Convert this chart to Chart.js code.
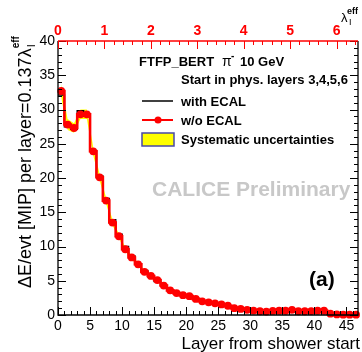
<!DOCTYPE html>
<html><head><meta charset="utf-8">
<script src="https://cdn.jsdelivr.net/npm/chart.js@4.4.1/dist/chart.umd.min.js"></script>
<style>html,body{margin:0;padding:0;background:#fff;overflow:hidden}</style>
</head><body>
<canvas id="c" width="362" height="352" style="display:block;width:362px;height:352px"></canvas>
<script>
// ---- data ----
const layers   = [0,1,2,3,4,5,6,7,8,9,10,11,12,13,14,15,16,17,18,19,20,21,22,23,24,25,26,27,28,29,30,31,32,33,34,35,36,37,38,39,40,41,42,43,44,45,46];
const woEcal   = [32.7,27.8,27.3,29.3,29.3,23.9,20.1,16.7,13.5,11.5,9.6,8.4,7.4,6.3,5.7,5.1,4.3,3.6,3.2,2.9,2.75,2.35,2.0,1.85,1.7,1.55,1.35,1.0,0.88,0.75,0.65,0.55,0.5,0.6,0.62,0.62,0.75,0.55,0.55,0.58,0.62,0.62,0.2,0.08,0.05,0.05,0.05];
const withEcal = [32.1,27.5,27.1,29.8,29.0,24.0,20.3,17.0,13.9,11.8,10.0,8.6,7.5,6.5,5.6,4.9,4.3,3.7,3.2,2.9,2.6,2.3,2.0,1.8,1.6,1.5,1.3,1.05,0.9,0.8,0.7,0.6,0.55,0.6,0.6,0.6,0.7,0.6,0.55,0.6,0.6,0.6,0.3,0.15,0.1,0.1,0.1];
const sysErr   = [1.0,0.8,0.7,0.7,0.7,0.6,0.5,0.45,0.4,0.35,0.3,0.3,0.25,0.25,0.2,0.2,0.2,0.15,0.15,0.15,0.12,0.12,0.1,0.1,0.1,0.1,0.08,0.08,0.08,0.08,0.06,0.06,0.06,0.06,0.06,0.06,0.06,0.06,0.06,0.06,0.06,0.06,0.05,0.05,0.05,0.05,0.05];
const xTickLabels = [0,5,10,15,20,25,30,35,40,45];
const yTickLabels = [0,5,10,15,20,25,30,35,40];
const lambdaTickLabels = [0,1,2,3,4,5,6];
const xMax = 46.8, yMax = 40, lambdaMax = 6.46;

// ---- derived point lists ----
const stepPts = vals => { const p = vals.map((v,i)=>({x:layers[i], y:v})); p.push({x:layers[layers.length-1]+1, y:vals[vals.length-1]}); return p; };
const centerPts = vals => vals.map((v,i)=>({x:layers[i]+0.5, y:v}));
const upper = woEcal.map((v,i)=>({x:layers[i]+0.5, y:v+sysErr[i]}));
const lower = woEcal.map((v,i)=>({x:layers[i]+0.5, y:Math.max(0,v-sysErr[i])}));

const FONT = '"Liberation Sans", Arial, Helvetica, sans-serif';

const deco = {
  id:'deco',
  afterDatasetsDraw(chart){
    const ctx = chart.ctx, a = chart.chartArea;
    const X = chart.scales.x, Y = chart.scales.y, L = chart.scales.x2;
    ctx.save();
    // frame
    ctx.lineWidth = 1.3; ctx.strokeStyle = '#000';
    ctx.beginPath();
    ctx.moveTo(a.left, a.top); ctx.lineTo(a.left, a.bottom); ctx.lineTo(a.right, a.bottom); ctx.lineTo(a.right, a.top);
    ctx.stroke();
    // y ticks (left + right)
    ctx.lineWidth = 1;
    ctx.beginPath();
    for (let v = 0; v <= yMax; v += 1) {
      const y = Math.round(Y.getPixelForValue(v)) + 0.5;
      const len = (v % 5 === 0) ? 8 : 4;
      ctx.moveTo(a.left, y); ctx.lineTo(a.left + len, y);
      ctx.moveTo(a.right, y); ctx.lineTo(a.right - len, y);
    }
    // x ticks bottom
    for (let v = 0; v <= xMax; v += 1) {
      const x = Math.round(X.getPixelForValue(v)) + 0.5;
      const len = (v % 5 === 0) ? 8 : 4;
      ctx.moveTo(x, a.bottom); ctx.lineTo(x, a.bottom - len);
    }
    ctx.stroke();
    // top red axis
    ctx.strokeStyle = '#ff0000'; ctx.lineWidth = 1.3;
    ctx.beginPath(); ctx.moveTo(a.left, a.top); ctx.lineTo(a.right, a.top); ctx.stroke();
    ctx.lineWidth = 1;
    ctx.beginPath();
    for (let k = 0; k <= Math.floor(lambdaMax*5); k++) {
      const v = k/5;
      const x = Math.round(L.getPixelForValue(v)) + 0.5;
      const len = (k % 5 === 0) ? 8 : 4;
      ctx.moveTo(x, a.top); ctx.lineTo(x, a.top + len);
    }
    ctx.stroke();

    // axis titles
    ctx.fillStyle = '#000';
    ctx.font = '17px ' + FONT;
    ctx.textAlign = 'right'; ctx.textBaseline = 'alphabetic';
    ctx.fillText('Layer from shower start', 360, 349);

    // top-right lambda label
    ctx.textAlign = 'left';
    ctx.font = '13px ' + FONT;
    ctx.fillText('\u03bb', 341, 22);
    ctx.font = '9px ' + FONT;
    ctx.fillText('I', 349, 25);
    ctx.font = 'bold 9px ' + FONT;
    ctx.fillText('eff', 347, 14);

    // y title (rotated)
    ctx.save();
    ctx.translate(31, 288);
    ctx.rotate(-Math.PI/2);
    ctx.font = '18px ' + FONT;
    const main = '\u0394E/evt [MIP] per layer=0.137\u03bb';
    ctx.fillText(main, 0, 0);
    const w = ctx.measureText(main).width;
    ctx.font = '11px ' + FONT;
    ctx.fillText('I', w + 1, 4);
    ctx.font = 'bold 10px ' + FONT;
    ctx.fillText('eff', w, -12);
    ctx.restore();

    // legend
    ctx.font = 'bold 13px ' + FONT;
    ctx.fillText('FTFP_BERT', 139, 66);
    ctx.font = '14px ' + FONT;
    ctx.fillText('\u03c0', 222, 66);
    ctx.font = 'bold 10px ' + FONT;
    ctx.fillText('-', 231, 59);
    ctx.font = 'bold 13px ' + FONT;
    ctx.fillText('10 GeV', 240, 66);
    ctx.fillText('Start in phys. layers 3,4,5,6', 181, 84);
    ctx.fillText('with ECAL', 181, 106);
    ctx.fillText('w/o ECAL', 181, 125);
    ctx.fillText('Systematic uncertainties', 181, 144);
    // legend samples
    ctx.strokeStyle = '#000'; ctx.lineWidth = 1.5;
    ctx.beginPath(); ctx.moveTo(142, 101); ctx.lineTo(173, 101); ctx.stroke();
    ctx.strokeStyle = '#ff0000'; ctx.lineWidth = 2;
    ctx.beginPath(); ctx.moveTo(142, 120); ctx.lineTo(173, 120); ctx.stroke();
    ctx.fillStyle = '#ff0000';
    ctx.beginPath(); ctx.arc(158, 120, 3.5, 0, Math.PI*2); ctx.fill();
    ctx.fillStyle = '#ffff00'; ctx.fillRect(142, 133, 32, 13);
    ctx.strokeStyle = '#4848a8'; ctx.lineWidth = 1.5; ctx.strokeRect(142, 133, 32, 13);

    // watermark
    ctx.fillStyle = '#c8c8c8';
    ctx.font = 'bold 21px ' + FONT;
    ctx.fillText('CALICE Preliminary', 152, 196);
    // panel label
    ctx.fillStyle = '#000';
    ctx.font = 'bold 21px ' + FONT;
    ctx.fillText('(a)', 309, 286);
    ctx.restore();
  }
};

const tickFont = {family: FONT, size: 14};
new Chart(document.getElementById('c'), {
  type: 'line',
  data: {
    datasets: [
      {label:'w/o ECAL markers', data: centerPts(woEcal), showLine:false, pointRadius:3.9, pointBackgroundColor:'#ff0000', pointBorderWidth:0, order:0, clip:false},
      {label:'w/o ECAL', data: stepPts(woEcal), stepped:'before', borderColor:'#ff0000', borderWidth:2.6, pointRadius:0, fill:false, order:1},
      {label:'with ECAL', data: stepPts(withEcal), stepped:'before', borderColor:'#000000', borderWidth:1.5, pointRadius:0, fill:false, order:2},
      {label:'sys up', data: upper, borderWidth:0, borderColor:'rgba(0,0,0,0)', pointRadius:0, fill:false, order:4},
      {label:'sys low', data: lower, borderWidth:0, borderColor:'rgba(0,0,0,0)', backgroundColor:'#ffff00', pointRadius:0, fill:'-1', order:3}
    ]
  },
  options: {
    responsive:false, animation:false, events:[],
    layout:{padding:{right:2, left:0, top:0, bottom:0}},
    plugins:{legend:{display:false}, tooltip:{enabled:false}, filler:{propagate:false}},
    scales:{
      x:{type:'linear', position:'bottom', min:0, max:xMax,
         afterBuildTicks: s => { s.ticks = xTickLabels.map(v=>({value:v})); },
         afterFit: s => { s.height = 37; },
         ticks:{color:'#000', font:tickFont, padding:3, maxRotation:0, autoSkip:false},
         grid:{display:false, drawTicks:false}, border:{display:false}},
      x2:{type:'linear', axis:'x', position:'top', min:0, max:lambdaMax,
         afterBuildTicks: s => { s.ticks = lambdaTickLabels.map(v=>({value:v})); },
         afterFit: s => { s.height = 41; },
         ticks:{color:'#ff0000', font:{family:FONT, size:14, weight:'bold'}, padding:1, maxRotation:0, autoSkip:false},
         grid:{display:false, drawTicks:false}, border:{display:false}},
      y:{type:'linear', position:'left', min:0, max:yMax,
         afterBuildTicks: s => { s.ticks = yTickLabels.map(v=>({value:v})); },
         afterFit: s => { s.width = 58; },
         ticks:{color:'#000', font:tickFont, padding:3, autoSkip:false},
         grid:{display:false, drawTicks:false}, border:{display:false}}
    }
  },
  plugins:[deco]
});
</script>
</body></html>
